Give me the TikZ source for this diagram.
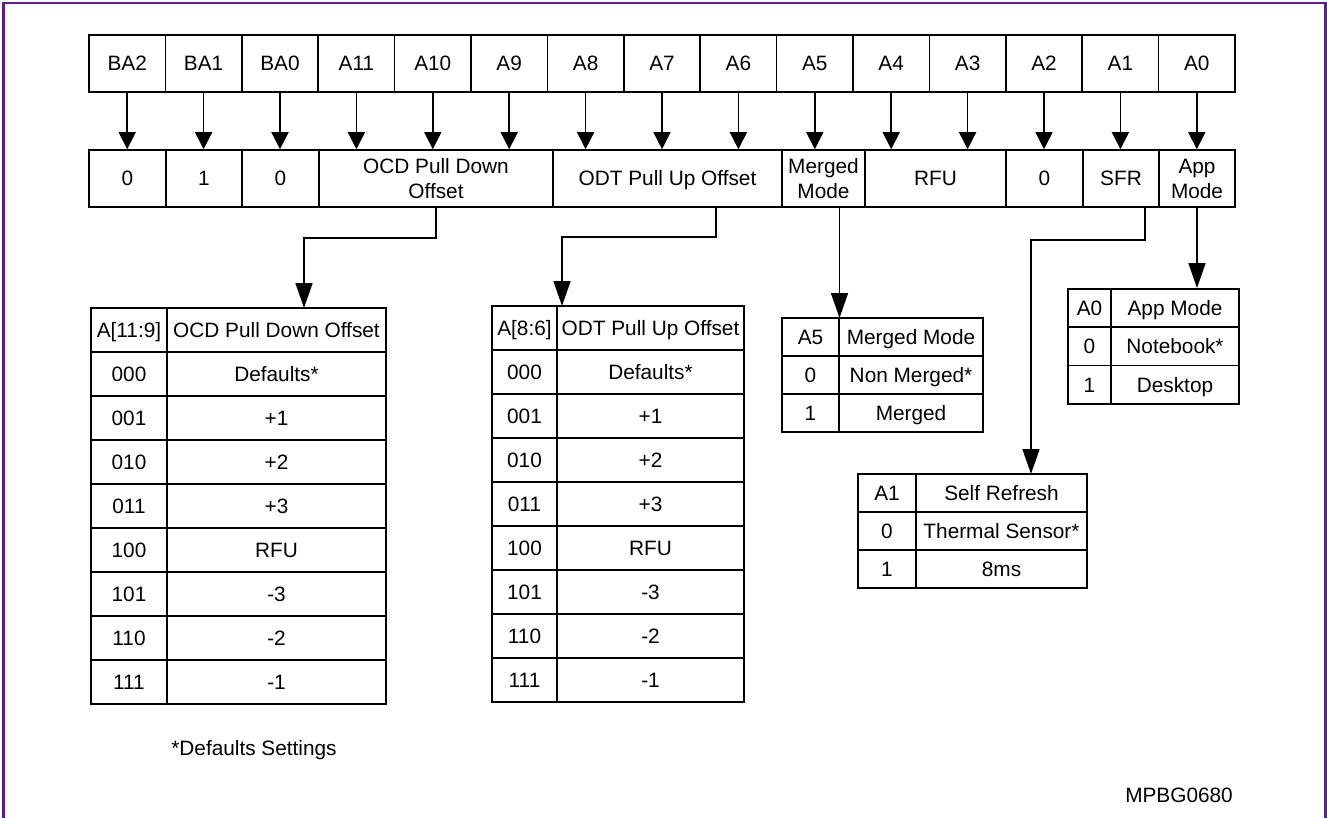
\documentclass[tikz,border=0pt]{standalone}
\usepackage{fontspec}
\setmainfont{Liberation Sans}
\usetikzlibrary{arrows.meta}
\definecolor{framepurple}{RGB}{90,30,145}
\begin{document}
\begin{tikzpicture}[x=1pt,y=-1pt,
  font=\fontsize{20.8}{25}\selectfont,
  cell/.style={draw, line width=1.6pt, inner sep=0pt, align=center, text height=18.9pt, text depth=4pt},
  twoline/.style={text height=43.9pt, text depth=4pt},
  toparr/.style={line width=1.6pt, -{Triangle[length=17pt,width=17pt]}},
  botarr/.style={line width=1.6pt, -{Triangle[length=25pt,width=17pt]}}]
\useasboundingbox (0,0) rectangle (1327,818);
\draw[framepurple, line width=2.2pt] (3.5,820) -- (3.5,3) -- (1325.5,3) -- (1325.5,820);

% top row
\foreach \lab [count=\i from 0] in {BA2,BA1,BA0,A11,A10,A9,A8,A7,A6,A5,A4,A3,A2,A1,A0}
  \node[cell, minimum width=76.4pt, minimum height=57pt] (t\i) at ({89+76.4*\i+38.2},63.5) {\lab};

% second row
\node[cell, minimum width=77pt, minimum height=57pt] (b0) at (127.5,178.5) {0};
\node[cell, minimum width=76pt, minimum height=57pt] (b1) at (204,178.5) {1};
\node[cell, minimum width=77pt, minimum height=57pt] (b2) at (280.5,178.5) {0};
\node[cell, twoline, minimum width=234pt, minimum height=57pt] (ocd) at (436,178.5) {OCD Pull Down\\Offset};
\node[cell, minimum width=229pt, minimum height=57pt] (odt) at (667.5,178.5) {ODT Pull Up Offset};
\node[cell, twoline, minimum width=83pt, minimum height=57pt] (mm) at (823.5,178.5) {Merged\\Mode};
\node[cell, minimum width=141pt, minimum height=57pt] (rfu) at (935.5,178.5) {RFU};
\node[cell, minimum width=77pt, minimum height=57pt] (b3) at (1044.5,178.5) {0};
\node[cell, minimum width=76pt, minimum height=57pt] (sfr) at (1121,178.5) {SFR};
\node[cell, twoline, minimum width=76pt, minimum height=57pt] (app) at (1197,178.5) {App\\Mode};

\foreach \i in {0,...,14}
  \draw[toparr] (t\i.south) -- (t\i.south |- b0.north);

% OCD table
\foreach \a/\b [count=\k from 0] in {A[11:9]/OCD Pull Down Offset,000/Defaults*,001/+1,010/+2,011/+3,100/RFU,101/-3,110/-2,111/-1} {
  \node[cell, minimum width=76pt, minimum height=44pt] (ocdA\k) at (129,{330+44*\k}) {\a};
  \node[cell, minimum width=219pt, minimum height=44pt] (ocdB\k) at (276.5,{330+44*\k}) {\b};
}
% ODT table
\foreach \a/\b [count=\k from 0] in {A[8:6]/ODT Pull Up Offset,000/Defaults*,001/+1,010/+2,011/+3,100/RFU,101/-3,110/-2,111/-1} {
  \node[cell, minimum width=65pt, minimum height=44pt] (odtA\k) at (524.5,{328+44*\k}) {\a};
  \node[cell, minimum width=187pt, minimum height=44pt] (odtB\k) at (650.5,{328+44*\k}) {\b};
}
% Merged mode table
\foreach \a/\b [count=\k from 0] in {A5/Merged Mode,0/Non Merged*,1/Merged} {
  \node[cell, minimum width=57pt, minimum height=38pt] (mmA\k) at (810.5,{337+38*\k}) {\a};
  \node[cell, minimum width=144pt, minimum height=38pt] (mmB\k) at (911,{337+38*\k}) {\b};
}
% App mode table
\foreach \a/\b [count=\k from 0] in {A0/App Mode,0/Notebook*,1/Desktop} {
  \node[cell, minimum width=43pt, minimum height=38.3pt] (apA\k) at (1089.5,{308+38.3*\k}) {\a};
  \node[cell, minimum width=128pt, minimum height=38.3pt] (apB\k) at (1175,{308+38.3*\k}) {\b};
}
% Self refresh table
\foreach \a/\b [count=\k from 0] in {A1/Self Refresh,0/Thermal Sensor*,1/8ms} {
  \node[cell, minimum width=58pt, minimum height=38pt] (srA\k) at (887,{493+38*\k}) {\a};
  \node[cell, minimum width=171pt, minimum height=38pt] (srB\k) at (1001.5,{493+38*\k}) {\b};
}

% connectors to tables
\coordinate (ocdin) at (304,308);
\draw[botarr] (ocd.south) -- ++(0,30) -| (ocdin);
\coordinate (odtout) at (716,207);
\coordinate (odtin) at (562,306);
\draw[botarr] (odtout) -- ++(0,30) -| (odtin);
\coordinate (mmout) at (839.5,207);
\coordinate (mmin) at (839.5,318);
\draw[botarr] (mmout) -- (mmin);
\coordinate (sfrout) at (1145,207);
\coordinate (sfrin) at (1031,474);
\draw[botarr] (sfrout) -- ++(0,33) -| (sfrin);
\draw[botarr] (app.south) -- (app.south |- apB0.north);

% notes
\node (fn) at (254,750) {*Defaults Settings};
\node (id) at (1179,795) {MPBG0680};
\end{tikzpicture}
\end{document}
